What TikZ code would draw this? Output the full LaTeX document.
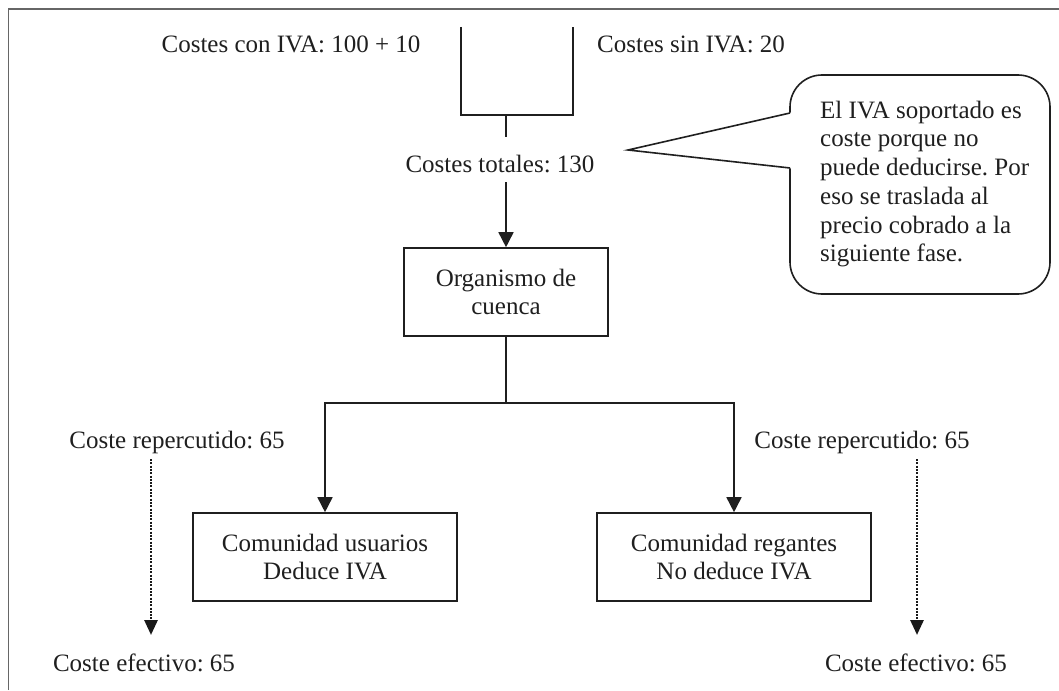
\documentclass[tikz,border=0pt]{standalone}
\usepackage{fontspec}
\setmainfont{Liberation Serif}
\usetikzlibrary{arrows.meta,calc}
\frenchspacing
\begin{document}
\begin{tikzpicture}[x=1pt,y=-1pt,
  txt/.style={font=\fontsize{25}{28.7}\selectfont, inner sep=0pt, text=black!88},
  box/.style={draw=black!88, line width=1.6pt, align=center, font=\fontsize{25}{28.7}\selectfont, text=black!88, minimum height=88pt, inner sep=0pt},
  ln/.style={line width=1.6pt, draw=black!88},
  arr/.style={line width=1.6pt, draw=black!88, -{Triangle[width=15pt,length=15pt]}},
  dotarr/.style={line width=2.8pt, draw=black!90, dash pattern=on 2pt off 1.3pt, -{Triangle[width=13pt,length=15pt]}},
  frame/.style={line width=1.2pt, black!60}
]
\useasboundingbox (0,0) rectangle (1059,690);
% frame (cut at right and bottom)
\draw[frame] (8.5,690) -- (8.5,9) -- (1059,9);

% top texts
\node[txt, anchor=base] (tcon) at (291,53) {Costes con IVA: 100 + 10};
\node[txt, anchor=base west] (tsin) at (597,53) {Costes sin IVA: 20};
\node[txt, anchor=base] (ttot) at (500,172) {Costes totales: 130};

% bracket
\coordinate (bl) at (461,27);
\coordinate (br) at (573,27);
\coordinate (s1) at (506,115);
\coordinate (s2) at (506,137);
\draw[ln] (bl) -- (bl |- s1) -- (br |- s1) -- (br);
\draw[ln] (s1) -- (s2);

% main boxes
\node[box, minimum width=204pt] (org) at (506,292) {Organismo de\\cuenca};
\node[box, minimum width=264pt] (cu) at (325,557) {Comunidad usuarios\\Deduce IVA};
\node[box, minimum width=274pt] (cr) at (734,557) {Comunidad regantes\\No deduce IVA};

\coordinate (a1) at (506,182);
\draw[arr] (a1) -- (org.north);
\coordinate (j) at (506,403);
\draw[ln] (org.south) -- (j);
\draw[arr] (j) -| (cu.north);
\draw[arr] (j) -| (cr.north);

% side labels
\node[txt, anchor=base] (rep1) at (177,448) {Coste repercutido: 65};
\node[txt, anchor=base] (rep2) at (862,448) {Coste repercutido: 65};
\node[txt, anchor=base] (ef1) at (144,671) {Coste efectivo: 65};
\node[txt, anchor=base] (ef2) at (916,671) {Coste efectivo: 65};
\coordinate (d1a) at (151,459);
\coordinate (d1b) at (151,635);
\coordinate (d2a) at (917,459);
\coordinate (d2b) at (917,635);
\draw[dotarr] (d1a) -- (d1b);
\draw[dotarr] (d2a) -- (d2b);

% callout
\node[draw=black!88, line width=1.6pt, rounded corners=32pt, minimum width=260pt, minimum height=219pt, inner sep=0pt] (cbox) at (920,184.5) {};
\coordinate (tip) at (628,150);
\coordinate (ct) at (790,113);
\coordinate (cb) at (790,168);
\fill[white] ($(ct)+(1.3,-0.5)$) -- (tip) -- ($(cb)+(1.3,0.5)$) -- cycle;
\draw[ln, line join=miter] (ct) -- (tip) -- (cb);
\node[txt, align=left, anchor=west] (ctext) at (820,184) {El IVA soportado es\\coste porque no\\puede deducirse. Por\\eso se traslada al\\precio cobrado a la\\siguiente fase.};
\end{tikzpicture}
\end{document}
